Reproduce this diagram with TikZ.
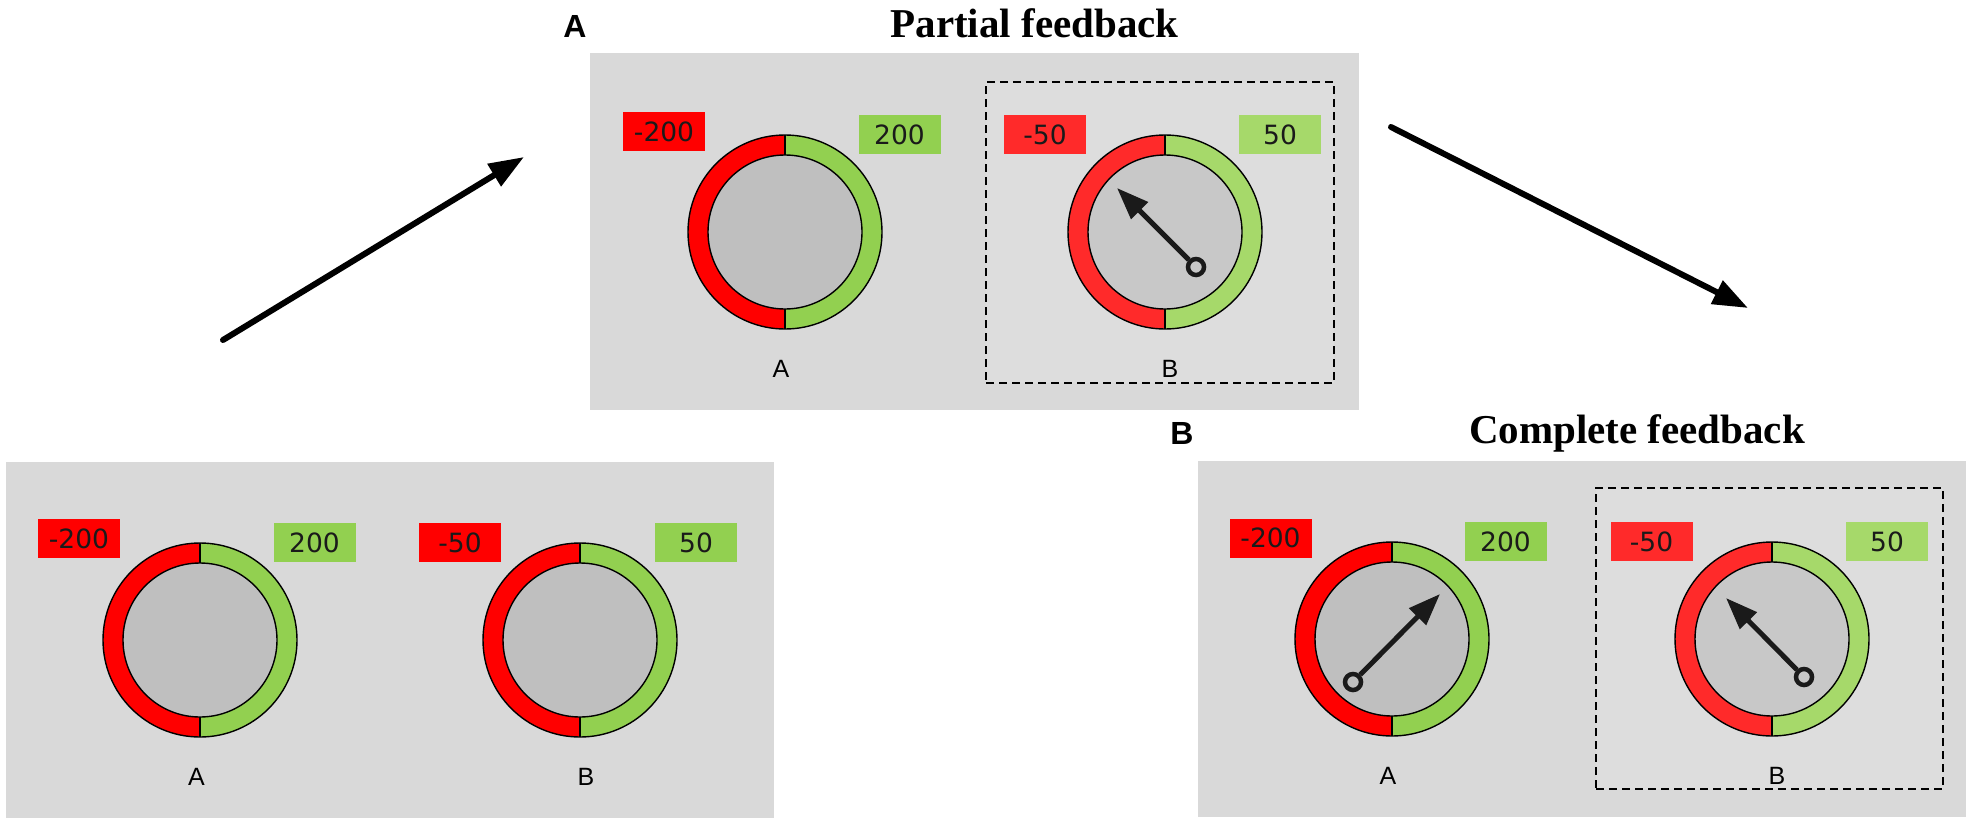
\documentclass[tikz,border=0pt]{standalone}
\usepackage{fontspec}
\setmainfont{Liberation Serif}
\newfontfamily\labelfont{Liberation Sans}
\newfontfamily\numfont{DejaVu Sans}
\usetikzlibrary{arrows.meta}
\definecolor{panelbg}{HTML}{D9D9D9}
\definecolor{dashbg}{HTML}{DDDDDD}
\definecolor{gred}{HTML}{FF0000}
\definecolor{ggreen}{HTML}{92D050}
\definecolor{ginner}{HTML}{BFBFBF}
\definecolor{lred}{HTML}{FF2A2A}
\definecolor{lgreen}{HTML}{A6D96A}
\definecolor{linner}{HTML}{C8C8C8}
\definecolor{txt}{HTML}{1A1A1A}
\definecolor{needlec}{HTML}{1A1A1A}

\tikzset{
  panel/.style={fill=panelbg, draw=none, inner sep=0pt, minimum width=769pt, minimum height=357pt},
  dashbox/.style={fill=dashbg, draw=black, dash pattern=on 8pt off 5pt, line width=1.8pt, inner sep=0pt, minimum width=348pt, minimum height=301pt},
  numbox/.style={minimum width=82pt, minimum height=39pt, inner sep=0pt, font=\numfont\fontsize{26.5}{26.5}\selectfont, text=txt},
  glabel/.style={font=\labelfont\fontsize{25}{25}\selectfont, inner sep=0pt},
  title/.style={font=\bfseries\fontsize{41}{43}\selectfont, anchor=base, inner sep=0pt},
  plabel/.style={font=\labelfont\bfseries\fontsize{32}{32}\selectfont, anchor=base, inner sep=0pt},
  flow/.style={line width=6pt, line cap=round, -{Triangle[length=35pt,width=25pt]}},
  needle/.style={draw=needlec, line width=5pt, -{Triangle[length=32pt,width=23pt]}},
  pivot/.style={circle, draw=needlec, line width=4.5pt, minimum size=16pt, inner sep=0pt},
  ring/.style={line width=1.4pt},
}

% gauge: cx, cy, red, green, inner
\newcommand\mygauge[5]{%
  \fill[#3] (#1,#2) -- ++(90:97) arc[start angle=90,end angle=270,radius=97] -- cycle;
  \fill[#4] (#1,#2) -- ++(270:97) arc[start angle=270,end angle=450,radius=97] -- cycle;
  \filldraw[fill=#5, ring] (#1,#2) circle[radius=77];
  \draw[ring] (#1,#2) circle[radius=97];
  \draw[ring] (#1,#2) ++(90:77) -- ++(90:20);
  \draw[ring] (#1,#2) ++(270:77) -- ++(270:20);
}

\begin{document}
\begin{tikzpicture}[x=1pt,y=-1pt]
\useasboundingbox[fill=white] (0,0) rectangle (1975,825);

% ---------- panels ----------
\node[panel] (ptop) at (974.5,231.5) {};
\node[panel, minimum width=768pt, minimum height=356pt] (pbl) at (390,640) {};
\node[panel, minimum width=768pt, minimum height=356pt] (pbr) at (1582,639) {};
\node[dashbox] (dtop) at (1160,232.5) {};
\node[dashbox, minimum width=347pt] (dbr) at (1769.5,638.5) {};

% ---------- titles ----------
\node[plabel] (labA) at (575,37) {A};
\node[title] (titA) at (1034.5,37) {Partial feedback};
\node[plabel] (labB) at (1182,444) {B};
\node[title] (titB) at (1637,443) {Complete feedback};

% ---------- top panel (partial feedback) ----------
\mygauge{785}{232}{gred}{ggreen}{ginner}
\node[numbox, fill=gred] (t-an) at (664,131.5) {-200};
\node[numbox, fill=ggreen] (t-ap) at (899.5,134.5) {200};
\node[glabel] (t-al) at (781,369) {A};

\mygauge{1165}{232}{lred}{lgreen}{linner}
\node[numbox, fill=lred] (t-bn) at (1045,134.5) {-50};
\node[numbox, fill=lgreen] (t-bp) at (1280,134.5) {50};
\node[glabel] (t-bl) at (1170,369) {B};
\node[pivot] (t-piv) at (1196,267) {};
\coordinate (t-tip) at (1117,188);
\draw[needle] (t-piv) -- (t-tip);

% ---------- bottom-left panel ----------
\mygauge{200}{640}{gred}{ggreen}{ginner}
\node[numbox, fill=gred] (l-an) at (79,538.5) {-200};
\node[numbox, fill=ggreen] (l-ap) at (314.5,542.5) {200};
\node[glabel] (l-al) at (196.5,777) {A};

\mygauge{580}{640}{gred}{ggreen}{ginner}
\node[numbox, fill=gred] (l-bn) at (460,542.5) {-50};
\node[numbox, fill=ggreen] (l-bp) at (696,542.5) {50};
\node[glabel] (l-bl) at (586,777) {B};

% ---------- bottom-right panel (complete feedback) ----------
\mygauge{1392}{639}{gred}{ggreen}{ginner}
\node[numbox, fill=gred] (r-an) at (1270.5,538) {-200};
\node[numbox, fill=ggreen] (r-ap) at (1505.5,541.5) {200};
\node[glabel] (r-al) at (1388,776) {A};
\node[pivot] (r-apiv) at (1353,682) {};
\coordinate (r-atip) at (1440,594);
\draw[needle] (r-apiv) -- (r-atip);

\mygauge{1772}{639}{lred}{lgreen}{linner}
\node[numbox, fill=lred] (r-bn) at (1651.5,541.5) {-50};
\node[numbox, fill=lgreen] (r-bp) at (1887,541.5) {50};
\node[glabel] (r-bl) at (1777,776) {B};
\node[pivot] (r-bpiv) at (1804,677) {};
\coordinate (r-btip) at (1726,598);
\draw[needle] (r-bpiv) -- (r-btip);

% ---------- flow arrows ----------
\coordinate (f1s) at (223,340);
\coordinate (f1e) at (524,157);
\draw[flow] (f1s) -- (f1e);
\coordinate (f2s) at (1391,127);
\coordinate (f2e) at (1748,308);
\draw[flow] (f2s) -- (f2e);
\end{tikzpicture}
\end{document}
